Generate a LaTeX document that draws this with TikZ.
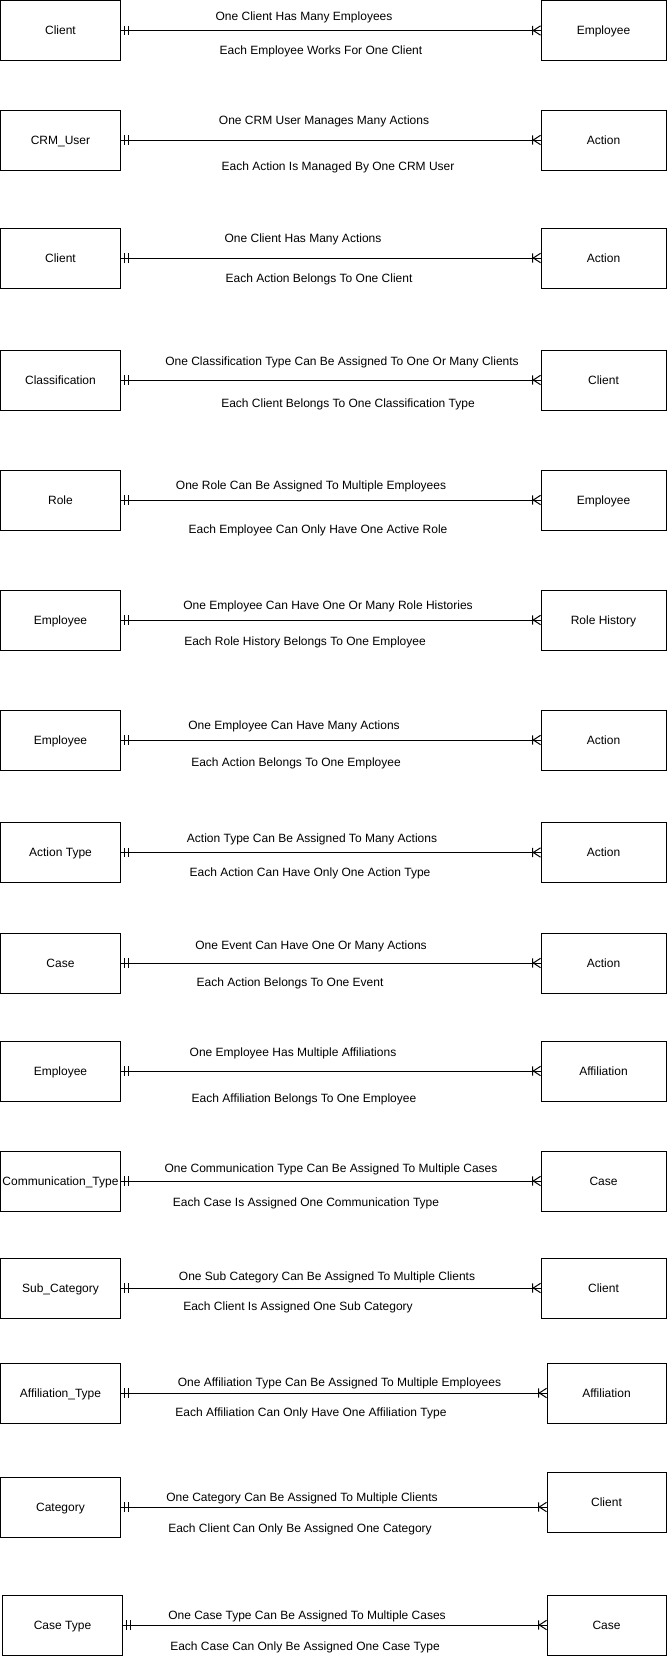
\documentclass[tikz,border=0pt]{standalone}
\usepackage{fontspec}
\setmainfont{Liberation Sans}
\usetikzlibrary{calc}

% crow's foot tips: mandatory one (two bars) and one-to-many
\pgfdeclarearrow{
  name = ERone,
  setup code = {
    \pgfarrowssettipend{0pt}
    \pgfarrowssetlineend{0pt}
    \pgfarrowsupperhullpoint{-6pt}{3.6pt}
    \pgfarrowsupperhullpoint{0pt}{3.6pt}
  },
  drawing code = {
    \pgfpathmoveto{\pgfpoint{-2.7pt}{-3.5pt}}
    \pgfpathlineto{\pgfpoint{-2.7pt}{3.5pt}}
    \pgfpathmoveto{\pgfpoint{-5.7pt}{-3.5pt}}
    \pgfpathlineto{\pgfpoint{-5.7pt}{3.5pt}}
    \pgfusepathqstroke
  }
}
\pgfdeclarearrow{
  name = ERmany,
  setup code = {
    \pgfarrowssettipend{0pt}
    \pgfarrowssetlineend{0pt}
    \pgfarrowsupperhullpoint{-6pt}{3.6pt}
    \pgfarrowsupperhullpoint{0pt}{3.6pt}
  },
  drawing code = {
    \pgfpathmoveto{\pgfpoint{-6pt}{-3.5pt}}
    \pgfpathlineto{\pgfpoint{-6pt}{3.5pt}}
    \pgfpathmoveto{\pgfpoint{0pt}{3.5pt}}
    \pgfpathlineto{\pgfpoint{-5.4pt}{0pt}}
    \pgfpathlineto{\pgfpoint{0pt}{-3.5pt}}
    \pgfusepathqstroke
  }
}

\begin{document}
\begin{tikzpicture}[x=0.75pt, y=-0.75pt,
    entity/.style={draw, line width=0.75pt, minimum height=45pt, inner sep=0pt,
        text height=6.6pt, text depth=0pt, font=\fontsize{9}{11}\selectfont},
    rel/.style={line width=0.75pt, ERone-ERmany},
    note/.style={inner sep=0pt, text height=6.6pt, text depth=0pt, yshift=-0.5pt,
        font=\fontsize{9}{11}\selectfont}]

    % Page size of the original export
    \useasboundingbox (0,0) rectangle (667,1656);

    % Entity pairs: row / left x / right x / right width / y / right y / names
    \foreach \k/\lx/\rx/\rw/\y/\ry/\lname/\rname in {
        1/60.5/603.5/125/30.5/30.5/Client/Employee,
        2/60.5/603.5/125/140/140/CRM\_User/Action,
        3/60.5/603.5/125/258/258/Client/Action,
        4/60.5/603.5/125/380/380/Classification/Client,
        5/60.5/603.5/125/500/500/Role/Employee,
        6/60.5/603.5/125/620/620/Employee/Role History,
        7/60.5/603.5/125/740/740/Employee/Action,
        8/60.5/603.5/125/852.5/852.5/Action Type/Action,
        9/60.5/603.5/125/963/963/Case/Action,
        10/60.5/603.5/125/1071/1071/Employee/Affiliation,
        11/60.5/603.5/125/1181/1181/Communication\_Type/Case,
        12/60.5/603.5/125/1288/1288/Sub\_Category/Client,
        13/60.5/606.5/119/1393/1393/Affiliation\_Type/Affiliation,
        14/60.5/606.5/119/1507/1502/Category/Client,
        15/62.5/606.5/119/1625/1625/Case Type/Case}{
        \node[entity, minimum width=90pt] (l\k) at (\lx,\y) {\lname};
        \node[entity, minimum width=\rw*0.75pt] (r\k) at (\rx,\ry) {\rname};
        % one (mandatory) to many
        \draw[rel] (l\k.east) -- (l\k.east -| r\k.west);
    }

    % Relationship texts above and below each line
    \foreach \k/\ax/\ay/\atext/\bx/\by/\btext in {
        1/304/15.8/One Client Has Many Employees/321/49.6/Each Employee Works For One Client,
        2/324/119.3/One CRM User Manages Many Actions/338/165.7/Each Action Is Managed By One CRM User,
        3/303/237.5/One Client Has Many Actions/319/277.6/Each Action Belongs To One Client,
        4/342/360/One Classification Type Can Be Assigned To One Or Many Clients/348/402/Each Client Belongs To One Classification Type,
        5/311/484.4/One Role Can Be Assigned To Multiple Employees/318/528.8/Each Employee Can Only Have One Active Role,
        6/328/604/One Employee Can Have One Or Many Role Histories/305/640.7/Each Role History Belongs To One Employee,
        7/294/724/One Employee Can Have Many Actions/296/761/Each Action Belongs To One Employee,
        8/312/837/Action Type Can Be Assigned To Many Actions/310/871.8/Each Action Can Have Only One Action Type,
        9/311/944.6/One Event Can Have One Or Many Actions/290/981.5/Each Action Belongs To One Event,
        10/293/1051.2/One Employee Has Multiple Affiliations/304/1097.6/Each Affiliation Belongs To One Employee,
        11/331/1167/One Communication Type Can Be Assigned To Multiple Cases/306/1201.7/Each Case Is Assigned One Communication Type,
        12/327/1275/One Sub Category Can Be Assigned To Multiple Clients/298/1305.4/Each Client Is Assigned One Sub Category,
        13/339.5/1381/One Affiliation Type Can Be Assigned To Multiple Employees/311/1411/Each Affiliation Can Only Have One Affiliation Type,
        14/302/1496.5/One Category Can Be Assigned To Multiple Clients/300/1527/Each Client Can Only Be Assigned One Category,
        15/307/1614/One Case Type Can Be Assigned To Multiple Cases/305/1645/Each Case Can Only Be Assigned One Case Type}{
        \node[note] (has\k) at (\ax,\ay) {\atext};
        \node[note] (each\k) at (\bx,\by) {\btext};
    }

\end{tikzpicture}
\end{document}
